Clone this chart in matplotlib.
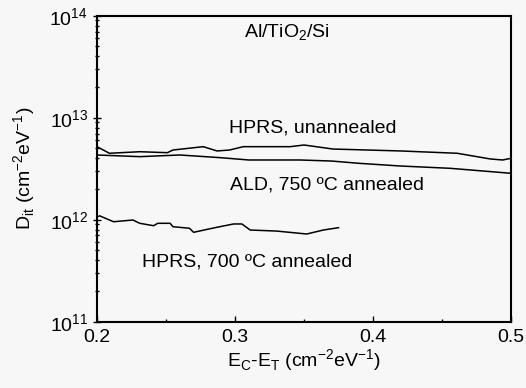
import matplotlib.pyplot as plt
from matplotlib.ticker import LogLocator, MultipleLocator, NullFormatter, FormatStrFormatter

plt.rcParams['font.family'] = ['Liberation Sans', 'DejaVu Sans']

# HPRS, unannealed
x_unann = [0.200, 0.209, 0.231, 0.251, 0.255, 0.277, 0.287, 0.296, 0.306, 0.340,
           0.350, 0.371, 0.420, 0.461, 0.485, 0.494, 0.500]
d_unann = [5.20e12, 4.48e12, 4.64e12, 4.54e12, 4.82e12, 5.20e12, 4.72e12, 4.82e12, 5.20e12, 5.20e12,
           5.40e12, 4.93e12, 4.72e12, 4.48e12, 3.94e12, 3.85e12, 4.00e12]

# ALD, 750 C annealed
x_ald = [0.200, 0.231, 0.260, 0.289, 0.310, 0.347, 0.370, 0.390, 0.420, 0.456, 0.500]
d_ald = [4.31e12, 4.15e12, 4.31e12, 4.06e12, 3.85e12, 3.85e12, 3.76e12, 3.57e12, 3.36e12, 3.19e12, 2.85e12]

# HPRS, 700 C annealed
x_700 = [0.200, 0.202, 0.212, 0.226, 0.231, 0.241, 0.244, 0.253, 0.255, 0.267,
         0.270, 0.280, 0.289, 0.299, 0.305, 0.311, 0.330, 0.352, 0.364, 0.375]
d_700 = [1.07e12, 1.09e12, 0.955e12, 0.993e12, 0.922e12, 0.873e12, 0.922e12, 0.922e12, 0.854e12, 0.824e12,
         0.752e12, 0.805e12, 0.854e12, 0.908e12, 0.908e12, 0.792e12, 0.774e12, 0.724e12, 0.792e12, 0.835e12]

fig = plt.figure(figsize=(5.26, 3.88), dpi=100)
fig.patch.set_facecolor('#f7f7f7')
ax = fig.add_axes([0.1844, 0.1709, 0.7871, 0.7886])
ax.set_facecolor('#f7f7f7')

ax.plot(x_unann, d_unann, color='black', lw=1.1)
ax.plot(x_ald, d_ald, color='black', lw=1.1)
ax.plot(x_700, d_700, color='black', lw=1.1)

ax.set_yscale('log')
ax.set_xlim(0.2, 0.5)
ax.set_ylim(1e11, 1e14)

ax.xaxis.set_major_locator(MultipleLocator(0.1))
ax.xaxis.set_minor_locator(MultipleLocator(0.05))
ax.xaxis.set_major_formatter(FormatStrFormatter('%.1f'))
ax.yaxis.set_major_locator(LogLocator(base=10, numticks=10))
ax.yaxis.set_minor_locator(LogLocator(base=10, subs=range(2, 10), numticks=20))
ax.yaxis.set_minor_formatter(NullFormatter())
ax.tick_params(axis='x', which='major', direction='in', length=4, width=1, labelsize=14, pad=5)
ax.tick_params(axis='x', which='minor', direction='in', length=2.5, width=1)
ax.tick_params(axis='y', which='major', direction='inout', length=6, width=1, labelsize=14)
ax.tick_params(axis='y', which='minor', direction='inout', length=3, width=1)

for s in ax.spines.values():
    s.set_linewidth(1.5)

ax.set_xlabel(r'E$_\mathregular{C}$-E$_\mathregular{T}$ (cm$^\mathregular{-2}$eV$^\mathregular{-1}$)', fontsize=14, labelpad=1)
ax.set_ylabel(r'D$_\mathregular{it}$ (cm$^\mathregular{-2}$eV$^\mathregular{-1}$)', fontsize=14, labelpad=8)

ax.text(0.338, 10**13.83, r'Al/TiO$_\mathregular{2}$/Si', fontsize=14, ha='center', va='center')
ax.text(0.356, 10**12.90, 'HPRS, unannealed', fontsize=14, ha='center', va='center')
ax.text(0.367, 10**12.34, 'ALD, 750 ºC annealed', fontsize=14, ha='center', va='center')
ax.text(0.309, 10**11.59, 'HPRS, 700 ºC annealed', fontsize=14, ha='center', va='center')

fig.savefig('out.png', dpi=100, facecolor=fig.get_facecolor())
